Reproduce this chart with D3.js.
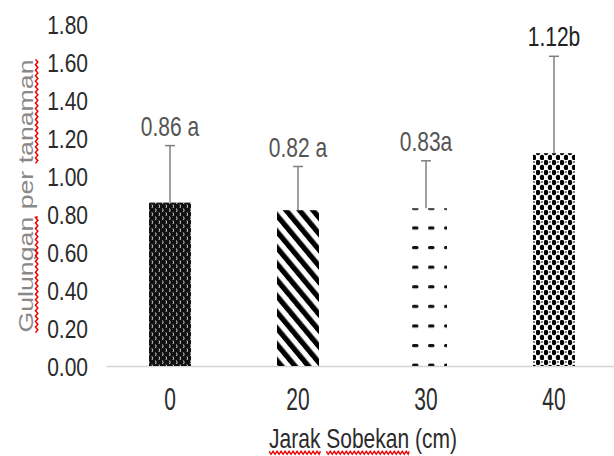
<!DOCTYPE html>
<html>
<head>
<meta charset="utf-8">
<script src="https://cdn.jsdelivr.net/npm/d3@7"></script>
<style>
  body { margin: 0; background: #fff; }
  svg text { font-family: "Liberation Sans", Arial, sans-serif; }
</style>
</head>
<body>
<script>
const categories = ["0", "20", "30", "40"];
const means = [0.86, 0.82, 0.83, 1.12];
const sds = [0.30, 0.23, 0.25, 0.51];
const valueLabels = ["0.86 a", "0.82 a", "0.83a", "1.12b"];
const yTicks = [0, 0.2, 0.4, 0.6, 0.8, 1.0, 1.2, 1.4, 1.6, 1.8];

const width = 614, height = 456;
const svg = d3.select("body").append("svg").attr("width", width).attr("height", height);

const x = d3.scaleBand().domain(categories).range([106, 618])
  .paddingInner(0.672).paddingOuter(0.336);
const y = d3.scaleLinear().domain([0, 1.8]).range([366, 24]);

// fill patterns, one per bar
const defs = svg.append("defs");

const p0 = defs.append("pattern").attr("id", "pat0").attr("patternUnits", "userSpaceOnUse")
  .attr("width", 7).attr("height", 8);
p0.append("rect").attr("width", 7).attr("height", 8).attr("fill", "#111");
p0.append("path").attr("d", "M1.5,0.5 q1.2,1.8 0,3.5 M5,4.5 q1.2,1.8 0,3.5")
  .attr("stroke", "#eee").attr("stroke-width", 0.9).attr("fill", "none");

const p1 = defs.append("pattern").attr("id", "pat1").attr("patternUnits", "userSpaceOnUse")
  .attr("width", 9.5).attr("height", 10).attr("patternTransform", "scale(1,1.2) rotate(-45)");
p1.append("rect").attr("width", 9.5).attr("height", 10).attr("fill", "#fff");
p1.append("rect").attr("width", 4.8).attr("height", 10).attr("fill", "#000");

const p2 = defs.append("pattern").attr("id", "pat2").attr("patternUnits", "userSpaceOnUse")
  .attr("x", x("30") + 7).attr("y", y(means[2]) - 1.5)
  .attr("width", 16).attr("height", 19.6);
p2.append("rect").attr("x", 0).attr("y", 0).attr("width", 6.5).attr("height", 3.2)
  .attr("rx", 1.5).attr("fill", "#111");

const p3 = defs.append("pattern").attr("id", "pat3").attr("patternUnits", "userSpaceOnUse")
  .attr("width", 8).attr("height", 8).attr("patternTransform", "scale(1,1.25)");
p3.append("rect").attr("width", 8).attr("height", 8).attr("fill", "#fff");
p3.append("circle").attr("cx", 2).attr("cy", 2).attr("r", 2.2).attr("fill", "#000");
p3.append("circle").attr("cx", 6).attr("cy", 6).attr("r", 2.2).attr("fill", "#000");
p3.append("circle").attr("cx", 6).attr("cy", 1.5).attr("r", 0.8).attr("fill", "#333");

const rows = categories.map((c, i) => ({ c, i, mean: means[i], sd: sds[i], label: valueLabels[i] }));

// y axis (labels only)
const yAxis = svg.append("g").attr("transform", "translate(88,0)")
  .call(d3.axisLeft(y).tickValues(yTicks).tickFormat(d3.format(".2f")).tickSize(0).tickPadding(0));
yAxis.select(".domain").remove();
yAxis.selectAll("text")
  .attr("x", 0).attr("dy", "0.36em")
  .attr("transform", "scale(1,1.22)")
  .attr("fill", "#2b2b2b").style("font-size", "21px")
  .style("font-family", "'Liberation Sans', Arial, sans-serif");

// x axis
const xAxis = svg.append("g").attr("transform", "translate(0,366)")
  .call(d3.axisBottom(x).tickSize(0).tickSizeOuter(0));
xAxis.select(".domain").attr("stroke", "#d4d4d4").attr("stroke-width", 1.5);
xAxis.selectAll("text")
  .attr("y", 0).attr("dy", 0)
  .attr("transform", "translate(0,44) scale(1,1.45)")
  .attr("fill", "#2b2b2b").style("font-size", "21px")
  .style("font-family", "'Liberation Sans', Arial, sans-serif");

// bars
svg.append("g").selectAll("rect").data(rows).join("rect")
  .attr("x", d => x(d.c))
  .attr("y", d => y(d.mean))
  .attr("width", x.bandwidth())
  .attr("height", d => y(0) - y(d.mean))
  .attr("fill", d => `url(#pat${d.i})`);

// error bars
const err = svg.append("g").attr("stroke", "#7f7f7f").attr("stroke-width", 1.5);
err.selectAll("line.v").data(rows).join("line").attr("class", "v")
  .attr("x1", d => x(d.c) + x.bandwidth() / 2).attr("x2", d => x(d.c) + x.bandwidth() / 2)
  .attr("y1", d => y(d.mean)).attr("y2", d => y(d.mean + d.sd));
err.selectAll("line.cap").data(rows).join("line").attr("class", "cap")
  .attr("x1", d => x(d.c) + x.bandwidth() / 2 - 5).attr("x2", d => x(d.c) + x.bandwidth() / 2 + 5)
  .attr("y1", d => y(d.mean + d.sd)).attr("y2", d => y(d.mean + d.sd));

// value labels
svg.append("g").selectAll("text").data(rows).join("text")
  .attr("transform", d => `translate(${x(d.c) + x.bandwidth() / 2},${y(d.mean + d.sd) - 10}) scale(1,1.3)`)
  .attr("text-anchor", "middle")
  .attr("fill", d => d.i === 3 ? "#222" : "#555")
  .style("font-size", "21px")
  .text(d => d.label);

// red wavy spell-check underline below given words
function squiggle(textNode, words, parent, transform) {
  const s = textNode.textContent;
  words.forEach(w => {
    const i = s.indexOf(w);
    const x0 = textNode.getStartPositionOfChar(i).x;
    const x1 = textNode.getEndPositionOfChar(i + w.length - 1).x;
    let d = `M${x0},2.5`;
    for (let xx = x0, k = 0; xx < x1; xx += 2, k++) {
      d += ` L${Math.min(xx + 2, x1)},${k % 2 ? 2.5 : 4.8}`;
    }
    parent.append("path").attr("transform", transform).attr("d", d)
      .attr("fill", "none").attr("stroke", "#e00").attr("stroke-width", 1.3);
  });
}

// axis titles
const xtT = "translate(363,448) scale(1,1.3)";
const xt = svg.append("text").attr("transform", xtT)
  .attr("text-anchor", "middle").attr("fill", "#2b2b2b").style("font-size", "21px")
  .text("Jarak Sobekan (cm)");
squiggle(xt.node(), ["Jarak", "Sobekan"], svg, xtT);

const ytT = "translate(33,196) rotate(-90) scale(1.37,1)";
const yt = svg.append("text").attr("transform", ytT)
  .attr("text-anchor", "middle").attr("fill", "#888").style("font-size", "19.5px")
  .text("Gulungan per tanaman");
squiggle(yt.node(), ["Gulungan", "tanaman"], svg, ytT);
</script>
</body>
</html>
